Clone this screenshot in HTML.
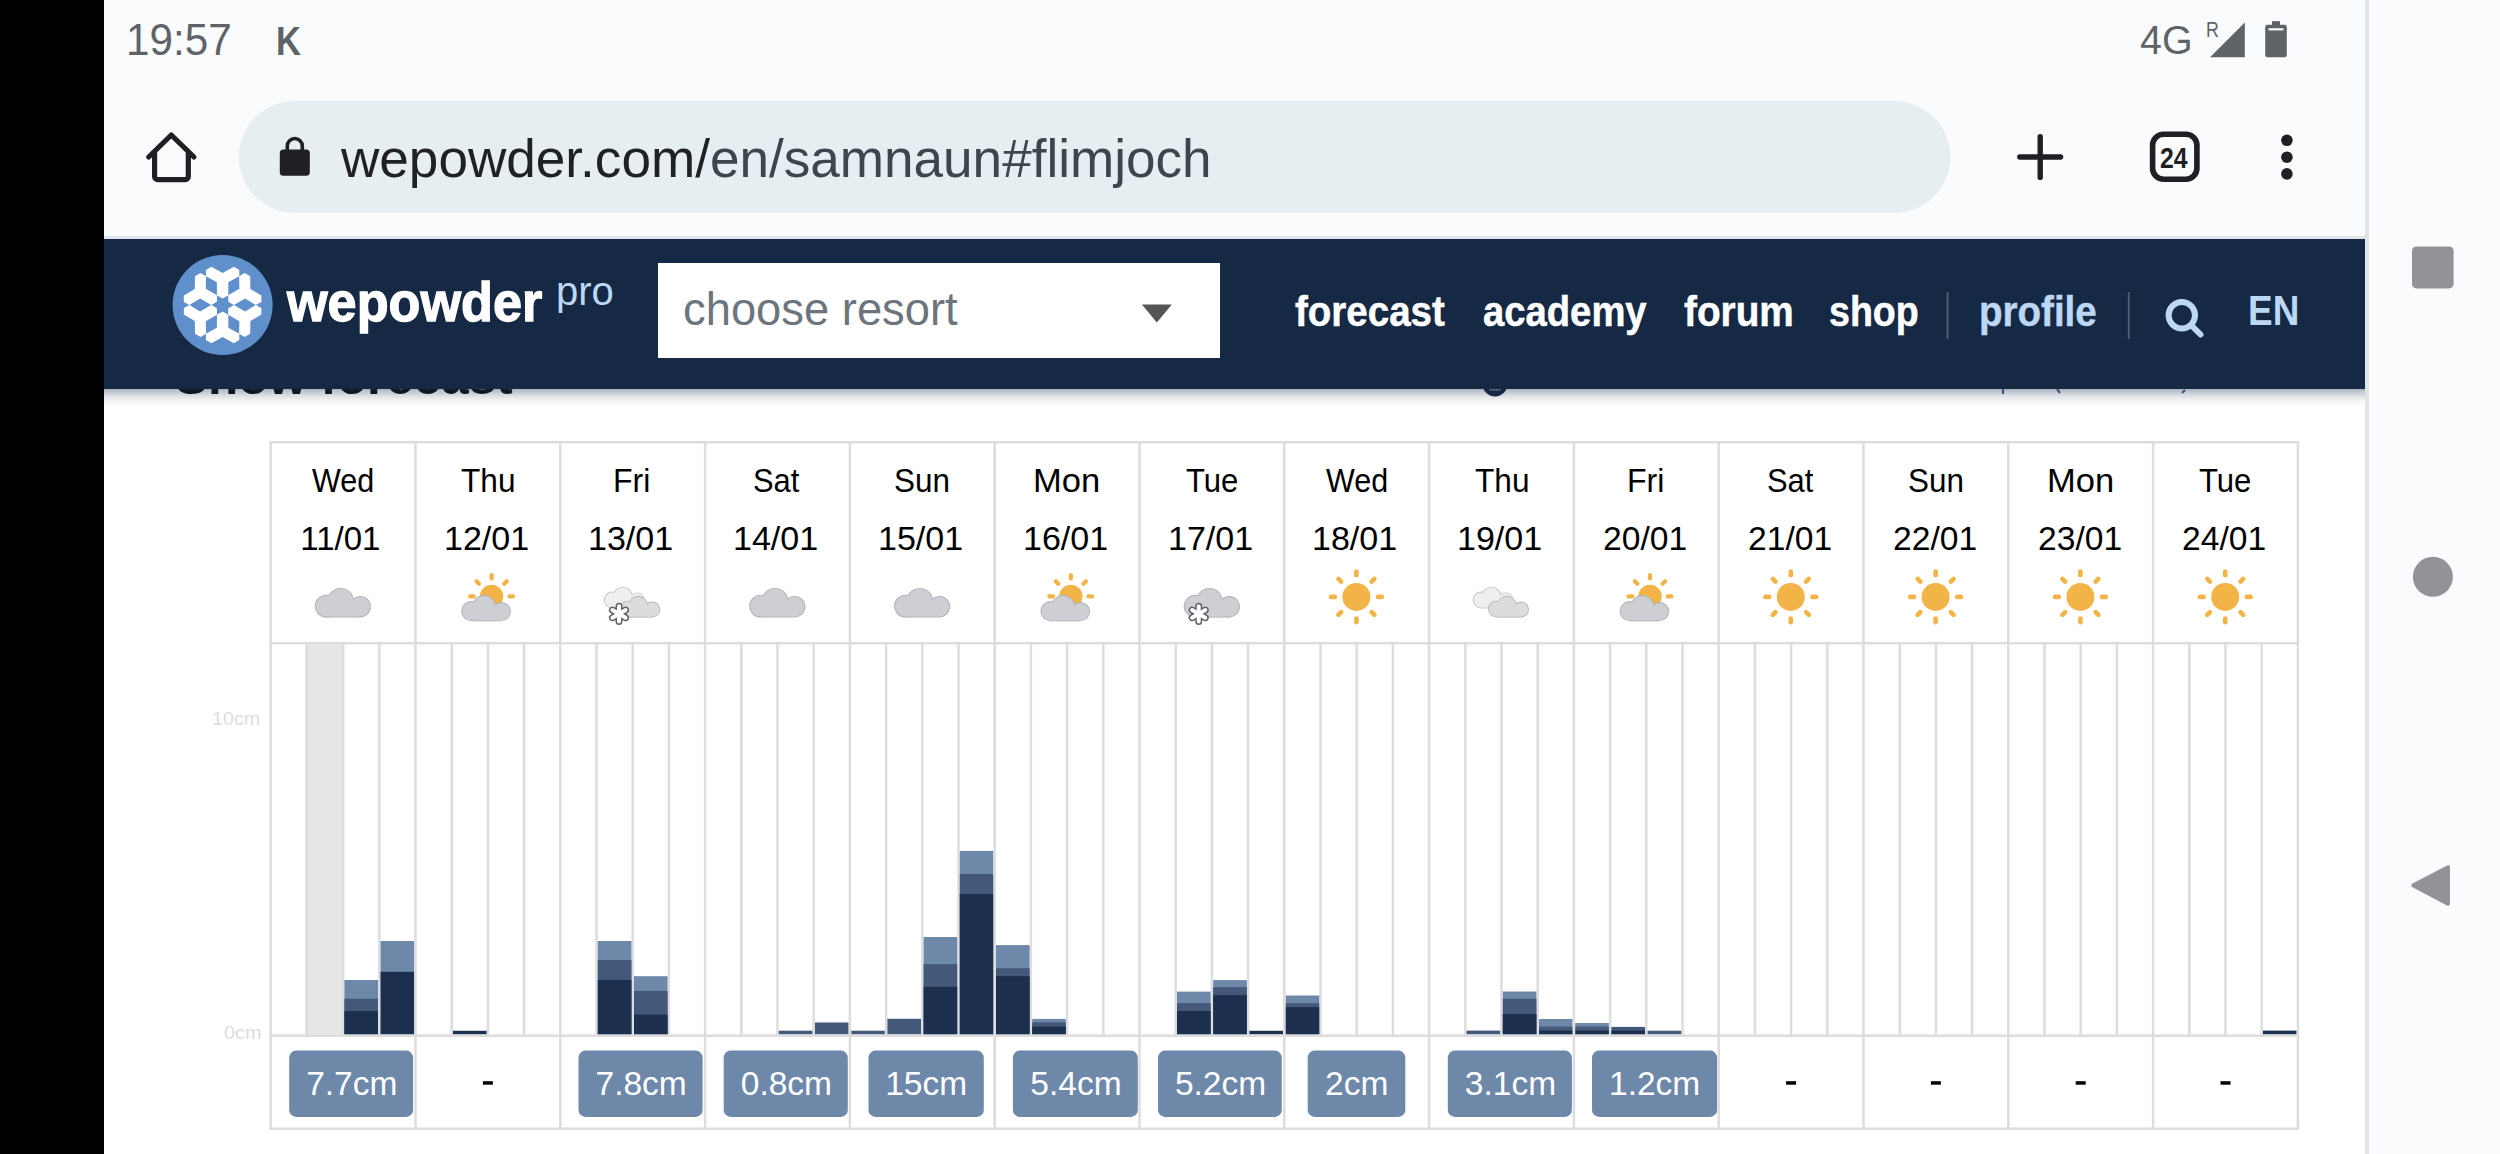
<!DOCTYPE html>
<html><head><meta charset="utf-8"><style>
html,body{margin:0;padding:0;width:2500px;height:1154px;overflow:hidden;background:#fafbfd;font-family:"Liberation Sans",sans-serif;}
.abs{position:absolute;}
.t{position:absolute;white-space:pre;line-height:1;font-family:"Liberation Sans",sans-serif;}
</style></head><body>
<div class=abs style="left:0;top:0;width:104px;height:1154px;background:#000"></div>
<div class=abs style="left:104px;top:0;width:2262px;height:236px;background:#fafbfd"></div>
<div class=abs style="left:104px;top:236px;width:2262px;height:3px;background:#e3e6ea"></div>
<div class=abs style="left:104px;top:389px;width:2262px;height:765px;background:#fff"></div>
<div class=abs style="left:2365px;top:0;width:3.6px;height:1154px;background:#dfe4e8"></div>
<div class=abs style="left:2368.6px;top:0;width:132px;height:1154px;background:#fafbfd"></div>
<svg class=abs style="left:0;top:0" width="2500" height="240">
<polygon points="2210,57.2 2244.8,22.4 2244.8,57.2" fill="#5f6368"/>
<rect x="2265.2" y="24.8" width="21.6" height="32.4" rx="2.5" fill="#5f6368"/>
<rect x="2272" y="21.2" width="8" height="5" fill="#5f6368"/>
<rect x="2268.5" y="28.2" width="15" height="2.2" fill="#fafbfd"/>
<rect x="238.8" y="100.9" width="1711.5" height="112" rx="56" fill="#e7eef1"/>
<path d="M148.7,157 L171.3,135 L193.9,157 M154.6,152.5 V176.6 a3,3 0 0 0 3,3 H185.3 a3,3 0 0 0 3,-3 V152.5" fill="none" stroke="#1f2023" stroke-width="5.2" stroke-linecap="round" stroke-linejoin="round"/>
<rect x="279.8" y="149.5" width="30" height="26.3" rx="3.5" fill="#1f2023"/>
<path d="M287.3,150 V146 a7.5,7.5 0 0 1 15,0 V150" fill="none" stroke="#1f2023" stroke-width="3.6"/>
<path d="M2040.2,136.6 V177.4 M2019.8,157 H2060.6" stroke="#1f2023" stroke-width="5.4" stroke-linecap="round"/>
<rect x="2152.6" y="134.3" width="44.3" height="45" rx="11" fill="none" stroke="#1f2023" stroke-width="5.6"/>
<circle cx="2286.9" cy="140.3" r="5.8" fill="#1f2023"/><circle cx="2286.9" cy="157.2" r="5.8" fill="#1f2023"/><circle cx="2286.9" cy="173.9" r="5.8" fill="#1f2023"/>
</svg>
<div class=t style="left:341.20px;top:132.10px;font-size:53px;transform:scaleX(1.0018);transform-origin:0 0;"><span style='color:#202124'>wepowder.com/</span><span style='color:#3f454c'>en/samnaun#flimjoch</span></div><div class=t style="left:175.01px;top:351.50px;font-size:50px;font-weight:700;color:#111111;transform:scaleX(0.9882);transform-origin:0 0;">Snow forecast</div><svg class=abs style="left:0;top:0" width="2500" height="420">
<circle cx="1495" cy="384" r="12.5" fill="#152844"/>
<rect x="1489.5" y="388.5" width="11" height="2" fill="#888"/>
<path d="M2003,389 v5 M2057,389 l3,4 M2185,390 l-3,3" stroke="#4a6a99" stroke-width="2.2"/>
</svg>
<div class=abs style="left:104px;top:389px;width:2261px;height:17px;background:linear-gradient(rgba(22,40,68,0.36),rgba(22,40,68,0.245) 20%,rgba(22,40,68,0.13) 45%,rgba(22,40,68,0.064) 65%,rgba(22,40,68,0.02) 85%,rgba(22,40,68,0))"></div>
<div class=abs style="left:104px;top:239px;width:2261px;height:150px;background:#152844"></div>
<div class=abs style="left:658.2px;top:263px;width:561.5px;height:94.6px;background:#fff"></div>
<svg class=abs style="left:0;top:0" width="2500" height="400">
<polygon points="1141.9,304.4 1171.8,304.4 1156.85,322.6" fill="#555"/>
<rect x="1946.6" y="292" width="2" height="46.8" fill="#4f5b6e"/>
<rect x="2127.8" y="292.2" width="2" height="46.8" fill="#4f5b6e"/>
<circle cx="2181.8" cy="315.3" r="13.2" fill="none" stroke="#bcd8f5" stroke-width="6"/>
<path d="M2191.5,325.5 L2200.5,334.5" stroke="#bcd8f5" stroke-width="6" stroke-linecap="round"/>
</svg>
<svg class=abs style='left:0;top:0' width='400' height='400'><circle cx='222.6' cy='305' r='50' fill='#6090cc'/><polygon points='222.60,298.40 216.90,295.20 216.90,282.30 205.90,276.30 205.90,269.90 211.40,266.70 222.60,272.90 233.80,266.70 239.30,269.90 239.30,276.30 228.30,282.30 228.30,295.20' fill='#fff'/><polygon points='228.32,301.70 228.24,295.16 239.41,288.71 239.10,276.19 244.65,272.99 250.17,276.15 250.40,288.95 261.37,295.55 261.35,301.91 255.80,305.11 245.11,298.59 233.94,305.04' fill='#fff'/><polygon points='228.32,308.30 233.94,304.96 245.11,311.41 255.80,304.89 261.35,308.09 261.37,314.45 250.40,321.05 250.17,333.85 244.65,337.01 239.10,333.81 239.41,321.29 228.24,314.84' fill='#fff'/><polygon points='222.60,311.60 228.30,314.80 228.30,327.70 239.30,333.70 239.30,340.10 233.80,343.30 222.60,337.10 211.40,343.30 205.90,340.10 205.90,333.70 216.90,327.70 216.90,314.80' fill='#fff'/><polygon points='216.88,308.30 216.96,314.84 205.79,321.29 206.10,333.81 200.55,337.01 195.03,333.85 194.80,321.05 183.83,314.45 183.85,308.09 189.40,304.89 200.09,311.41 211.26,304.96' fill='#fff'/><polygon points='216.88,301.70 211.26,305.04 200.09,298.59 189.40,305.11 183.85,301.91 183.83,295.55 194.80,288.95 195.03,276.15 200.55,272.99 206.10,276.19 205.79,288.71 216.96,295.16' fill='#fff'/></svg><svg class=abs style='left:0;top:0' width='2500' height='1154' viewBox='0 0 2500 1154'><rect x='305.2' y='644.4' width='39' height='390.1' fill='#e6e6e6'/><rect x='305.65' y='643' width='2.5' height='392' fill='#dddddd'/><rect x='341.85' y='643' width='2.5' height='392' fill='#dddddd'/><rect x='378.05' y='643' width='2.5' height='392' fill='#dddddd'/><rect x='450.45' y='643' width='2.5' height='392' fill='#dddddd'/><rect x='486.65' y='643' width='2.5' height='392' fill='#dddddd'/><rect x='522.85' y='643' width='2.5' height='392' fill='#dddddd'/><rect x='595.25' y='643' width='2.5' height='392' fill='#dddddd'/><rect x='631.45' y='643' width='2.5' height='392' fill='#dddddd'/><rect x='667.65' y='643' width='2.5' height='392' fill='#dddddd'/><rect x='740.05' y='643' width='2.5' height='392' fill='#dddddd'/><rect x='776.25' y='643' width='2.5' height='392' fill='#dddddd'/><rect x='812.45' y='643' width='2.5' height='392' fill='#dddddd'/><rect x='884.85' y='643' width='2.5' height='392' fill='#dddddd'/><rect x='921.05' y='643' width='2.5' height='392' fill='#dddddd'/><rect x='957.25' y='643' width='2.5' height='392' fill='#dddddd'/><rect x='1029.65' y='643' width='2.5' height='392' fill='#dddddd'/><rect x='1065.85' y='643' width='2.5' height='392' fill='#dddddd'/><rect x='1102.05' y='643' width='2.5' height='392' fill='#dddddd'/><rect x='1174.45' y='643' width='2.5' height='392' fill='#dddddd'/><rect x='1210.65' y='643' width='2.5' height='392' fill='#dddddd'/><rect x='1246.85' y='643' width='2.5' height='392' fill='#dddddd'/><rect x='1319.25' y='643' width='2.5' height='392' fill='#dddddd'/><rect x='1355.45' y='643' width='2.5' height='392' fill='#dddddd'/><rect x='1391.65' y='643' width='2.5' height='392' fill='#dddddd'/><rect x='1464.05' y='643' width='2.5' height='392' fill='#dddddd'/><rect x='1500.25' y='643' width='2.5' height='392' fill='#dddddd'/><rect x='1536.45' y='643' width='2.5' height='392' fill='#dddddd'/><rect x='1608.85' y='643' width='2.5' height='392' fill='#dddddd'/><rect x='1645.05' y='643' width='2.5' height='392' fill='#dddddd'/><rect x='1681.25' y='643' width='2.5' height='392' fill='#dddddd'/><rect x='1753.65' y='643' width='2.5' height='392' fill='#dddddd'/><rect x='1789.85' y='643' width='2.5' height='392' fill='#dddddd'/><rect x='1826.05' y='643' width='2.5' height='392' fill='#dddddd'/><rect x='1898.45' y='643' width='2.5' height='392' fill='#dddddd'/><rect x='1934.65' y='643' width='2.5' height='392' fill='#dddddd'/><rect x='1970.85' y='643' width='2.5' height='392' fill='#dddddd'/><rect x='2043.25' y='643' width='2.5' height='392' fill='#dddddd'/><rect x='2079.45' y='643' width='2.5' height='392' fill='#dddddd'/><rect x='2115.65' y='643' width='2.5' height='392' fill='#dddddd'/><rect x='2188.05' y='643' width='2.5' height='392' fill='#dddddd'/><rect x='2224.25' y='643' width='2.5' height='392' fill='#dddddd'/><rect x='2260.45' y='643' width='2.5' height='392' fill='#dddddd'/><rect x='344.40' y='980' width='33.60' height='54.40' fill='#6e88aa'/><rect x='344.40' y='998.7' width='33.60' height='35.70' fill='#44597a'/><rect x='344.40' y='1011.1' width='33.60' height='23.30' fill='#1c2f4f'/><rect x='380.60' y='941' width='33.60' height='93.40' fill='#6e88aa'/><rect x='380.60' y='971.8' width='33.60' height='62.60' fill='#1c2f4f'/><rect x='453.00' y='1030.8' width='33.60' height='3.60' fill='#1c2f4f'/><rect x='597.80' y='941' width='33.60' height='93.40' fill='#6e88aa'/><rect x='597.80' y='960' width='33.60' height='74.40' fill='#44597a'/><rect x='597.80' y='980' width='33.60' height='54.40' fill='#1c2f4f'/><rect x='634.00' y='976.2' width='33.60' height='58.20' fill='#6e88aa'/><rect x='634.00' y='991' width='33.60' height='43.40' fill='#44597a'/><rect x='634.00' y='1014.6' width='33.60' height='19.80' fill='#1c2f4f'/><rect x='778.80' y='1030.7' width='33.60' height='3.70' fill='#44597a'/><rect x='815.00' y='1022.5' width='33.60' height='11.90' fill='#44597a'/><rect x='851.20' y='1030.7' width='33.60' height='3.70' fill='#44597a'/><rect x='887.40' y='1018.8' width='33.60' height='15.60' fill='#44597a'/><rect x='923.60' y='937' width='33.60' height='97.40' fill='#6e88aa'/><rect x='923.60' y='964.1' width='33.60' height='70.30' fill='#44597a'/><rect x='923.60' y='986.8' width='33.60' height='47.60' fill='#1c2f4f'/><rect x='959.80' y='850.9' width='33.60' height='183.50' fill='#6e88aa'/><rect x='959.80' y='874' width='33.60' height='160.40' fill='#44597a'/><rect x='959.80' y='894' width='33.60' height='140.40' fill='#1c2f4f'/><rect x='996.00' y='945.1' width='33.60' height='89.30' fill='#6e88aa'/><rect x='996.00' y='968.2' width='33.60' height='66.20' fill='#44597a'/><rect x='996.00' y='976.1' width='33.60' height='58.30' fill='#1c2f4f'/><rect x='1032.20' y='1018.9' width='33.60' height='15.50' fill='#6e88aa'/><rect x='1032.20' y='1022.3' width='33.60' height='12.10' fill='#44597a'/><rect x='1032.20' y='1026.5' width='33.60' height='7.90' fill='#1c2f4f'/><rect x='1177.00' y='991.6' width='33.60' height='42.80' fill='#6e88aa'/><rect x='1177.00' y='1003.1' width='33.60' height='31.30' fill='#44597a'/><rect x='1177.00' y='1011' width='33.60' height='23.40' fill='#1c2f4f'/><rect x='1213.20' y='980.1' width='33.60' height='54.30' fill='#6e88aa'/><rect x='1213.20' y='987.1' width='33.60' height='47.30' fill='#44597a'/><rect x='1213.20' y='995.2' width='33.60' height='39.20' fill='#1c2f4f'/><rect x='1249.40' y='1030.8' width='33.60' height='3.60' fill='#1c2f4f'/><rect x='1285.60' y='995.5' width='33.60' height='38.90' fill='#6e88aa'/><rect x='1285.60' y='1003.2' width='33.60' height='31.20' fill='#44597a'/><rect x='1285.60' y='1007.2' width='33.60' height='27.20' fill='#1c2f4f'/><rect x='1466.60' y='1030.6' width='33.60' height='3.80' fill='#44597a'/><rect x='1502.80' y='991.5' width='33.60' height='42.90' fill='#6e88aa'/><rect x='1502.80' y='998.7' width='33.60' height='35.70' fill='#44597a'/><rect x='1502.80' y='1014' width='33.60' height='20.40' fill='#1c2f4f'/><rect x='1539.00' y='1019' width='33.60' height='15.40' fill='#6e88aa'/><rect x='1539.00' y='1026.5' width='33.60' height='7.90' fill='#44597a'/><rect x='1539.00' y='1030.6' width='33.60' height='3.80' fill='#1c2f4f'/><rect x='1575.20' y='1023' width='33.60' height='11.40' fill='#6e88aa'/><rect x='1575.20' y='1026.5' width='33.60' height='7.90' fill='#44597a'/><rect x='1575.20' y='1030.6' width='33.60' height='3.80' fill='#1c2f4f'/><rect x='1611.40' y='1026.9' width='33.60' height='7.50' fill='#44597a'/><rect x='1611.40' y='1030.6' width='33.60' height='3.80' fill='#1c2f4f'/><rect x='1647.60' y='1030.7' width='33.60' height='3.70' fill='#44597a'/><rect x='2263.00' y='1030.6' width='33.60' height='3.80' fill='#1c2f4f'/><rect x='269.45' y='440.95' width='2029.7' height='2.5' fill='#dddddd'/><rect x='269.45' y='641.95' width='2029.7' height='2.5' fill='#dddddd'/><rect x='269.45' y='1034.45' width='2029.7' height='2.5' fill='#dddddd'/><rect x='269.45' y='1127.45' width='2029.7' height='2.5' fill='#dddddd'/><rect x='269.45' y='441' width='2.5' height='689' fill='#dddddd'/><rect x='414.25' y='441' width='2.5' height='689' fill='#dddddd'/><rect x='559.05' y='441' width='2.5' height='689' fill='#dddddd'/><rect x='703.85' y='441' width='2.5' height='689' fill='#dddddd'/><rect x='848.65' y='441' width='2.5' height='689' fill='#dddddd'/><rect x='993.45' y='441' width='2.5' height='689' fill='#dddddd'/><rect x='1138.25' y='441' width='2.5' height='689' fill='#dddddd'/><rect x='1283.05' y='441' width='2.5' height='689' fill='#dddddd'/><rect x='1427.85' y='441' width='2.5' height='689' fill='#dddddd'/><rect x='1572.65' y='441' width='2.5' height='689' fill='#dddddd'/><rect x='1717.45' y='441' width='2.5' height='689' fill='#dddddd'/><rect x='1862.25' y='441' width='2.5' height='689' fill='#dddddd'/><rect x='2007.05' y='441' width='2.5' height='689' fill='#dddddd'/><rect x='2151.85' y='441' width='2.5' height='689' fill='#dddddd'/><rect x='2296.65' y='441' width='2.5' height='689' fill='#dddddd'/><rect x='289.2' y='1050.6' width='123.9' height='66.3' rx='7' fill='#6e88aa'/><rect x='578.5' y='1050.6' width='124.1' height='66.3' rx='7' fill='#6e88aa'/><rect x='723.7' y='1050.6' width='124.1' height='66.3' rx='7' fill='#6e88aa'/><rect x='868.5' y='1050.6' width='115.3' height='66.3' rx='7' fill='#6e88aa'/><rect x='1012.9' y='1050.6' width='124.9' height='66.3' rx='7' fill='#6e88aa'/><rect x='1158' y='1050.6' width='123.8' height='66.3' rx='7' fill='#6e88aa'/><rect x='1307.7' y='1050.6' width='97.6' height='66.3' rx='7' fill='#6e88aa'/><rect x='1447.8' y='1050.6' width='124.1' height='66.3' rx='7' fill='#6e88aa'/><rect x='1592' y='1050.6' width='125.1' height='66.3' rx='7' fill='#6e88aa'/><rect x='482.90' y='1081.2' width='10' height='3.5' fill='#000'/><rect x='1786.10' y='1081.2' width='10' height='3.5' fill='#000'/><rect x='1930.90' y='1081.2' width='10' height='3.5' fill='#000'/><rect x='2075.70' y='1081.2' width='10' height='3.5' fill='#000'/><rect x='2220.50' y='1081.2' width='10' height='3.5' fill='#000'/><g fill='#afb2b8' opacity='1'><circle cx='326.20' cy='606.10' r='11.40'/><circle cx='340.60' cy='601.30' r='13.40'/><circle cx='360.30' cy='606.60' r='10.70'/><rect x='326.20' y='606.10' width='34.10' height='11.40'/></g><g fill='#cdcfd3' opacity='1'><circle cx='326.20' cy='606.10' r='10.50'/><circle cx='340.60' cy='601.30' r='12.50'/><circle cx='360.30' cy='606.60' r='9.80'/><rect x='326.20' y='606.10' width='34.10' height='10.50'/></g><circle cx='491.60' cy='596.40' r='11.7' fill='#f2b447'/><line x1='509.40' y1='596.40' x2='513.00' y2='596.40' stroke='#f2b447' stroke-width='4.2' stroke-linecap='round'/><line x1='504.19' y1='583.81' x2='506.73' y2='581.27' stroke='#f2b447' stroke-width='4.2' stroke-linecap='round'/><line x1='491.60' y1='578.60' x2='491.60' y2='575.00' stroke='#f2b447' stroke-width='4.2' stroke-linecap='round'/><line x1='479.01' y1='583.81' x2='476.47' y2='581.27' stroke='#f2b447' stroke-width='4.2' stroke-linecap='round'/><line x1='473.80' y1='596.40' x2='470.20' y2='596.40' stroke='#f2b447' stroke-width='4.2' stroke-linecap='round'/><g fill='#afb2b8' opacity='1'><circle cx='471.33' cy='611.12' r='10.14'/><circle cx='484.00' cy='606.89' r='11.90'/><circle cx='501.34' cy='611.56' r='9.52'/><rect x='471.33' y='611.12' width='30.01' height='10.14'/></g><g fill='#cdcfd3' opacity='1'><circle cx='471.33' cy='611.12' r='9.24'/><circle cx='484.00' cy='606.89' r='11.00'/><circle cx='501.34' cy='611.56' r='8.62'/><rect x='471.33' y='611.12' width='30.01' height='9.24'/></g><g fill='#c4c6ca' opacity='1'><circle cx='612.31' cy='600.00' r='8.46'/><circle cx='622.68' cy='596.55' r='9.90'/><circle cx='636.86' cy='600.36' r='7.96'/><rect x='612.31' y='600.00' width='24.55' height='8.46'/></g><g fill='#efefef' opacity='1'><circle cx='612.31' cy='600.00' r='7.56'/><circle cx='622.68' cy='596.55' r='9.00'/><circle cx='636.86' cy='600.36' r='7.06'/><rect x='612.31' y='600.00' width='24.55' height='7.56'/></g><g fill='#b4b7bc' opacity='1'><circle cx='627.71' cy='609.10' r='8.46'/><circle cx='638.08' cy='605.65' r='9.90'/><circle cx='652.26' cy='609.46' r='7.96'/><rect x='627.71' y='609.10' width='24.55' height='8.46'/></g><g fill='#dcdcdc' opacity='1'><circle cx='627.71' cy='609.10' r='7.56'/><circle cx='638.08' cy='605.65' r='9.00'/><circle cx='652.26' cy='609.46' r='7.06'/><rect x='627.71' y='609.10' width='24.55' height='7.56'/></g><line x1='619.00' y1='606.30' x2='619.00' y2='621.50' stroke='#5c6168' stroke-width='7.0' stroke-linecap='round'/><line x1='612.42' y1='610.10' x2='625.58' y2='617.70' stroke='#5c6168' stroke-width='7.0' stroke-linecap='round'/><line x1='625.58' y1='610.10' x2='612.42' y2='617.70' stroke='#5c6168' stroke-width='7.0' stroke-linecap='round'/><line x1='619.00' y1='606.30' x2='619.00' y2='621.50' stroke='#ffffff' stroke-width='4.0' stroke-linecap='round'/><line x1='612.42' y1='610.10' x2='625.58' y2='617.70' stroke='#ffffff' stroke-width='4.0' stroke-linecap='round'/><line x1='625.58' y1='610.10' x2='612.42' y2='617.70' stroke='#ffffff' stroke-width='4.0' stroke-linecap='round'/><g fill='#afb2b8' opacity='1'><circle cx='760.60' cy='606.10' r='11.40'/><circle cx='775.00' cy='601.30' r='13.40'/><circle cx='794.70' cy='606.60' r='10.70'/><rect x='760.60' y='606.10' width='34.10' height='11.40'/></g><g fill='#cdcfd3' opacity='1'><circle cx='760.60' cy='606.10' r='10.50'/><circle cx='775.00' cy='601.30' r='12.50'/><circle cx='794.70' cy='606.60' r='9.80'/><rect x='760.60' y='606.10' width='34.10' height='10.50'/></g><g fill='#afb2b8' opacity='1'><circle cx='905.40' cy='606.10' r='11.40'/><circle cx='919.80' cy='601.30' r='13.40'/><circle cx='939.50' cy='606.60' r='10.70'/><rect x='905.40' y='606.10' width='34.10' height='11.40'/></g><g fill='#cdcfd3' opacity='1'><circle cx='905.40' cy='606.10' r='10.50'/><circle cx='919.80' cy='601.30' r='12.50'/><circle cx='939.50' cy='606.60' r='9.80'/><rect x='905.40' y='606.10' width='34.10' height='10.50'/></g><circle cx='1070.80' cy='596.40' r='11.7' fill='#f2b447'/><line x1='1088.60' y1='596.40' x2='1092.20' y2='596.40' stroke='#f2b447' stroke-width='4.2' stroke-linecap='round'/><line x1='1083.39' y1='583.81' x2='1085.93' y2='581.27' stroke='#f2b447' stroke-width='4.2' stroke-linecap='round'/><line x1='1070.80' y1='578.60' x2='1070.80' y2='575.00' stroke='#f2b447' stroke-width='4.2' stroke-linecap='round'/><line x1='1058.21' y1='583.81' x2='1055.67' y2='581.27' stroke='#f2b447' stroke-width='4.2' stroke-linecap='round'/><line x1='1053.00' y1='596.40' x2='1049.40' y2='596.40' stroke='#f2b447' stroke-width='4.2' stroke-linecap='round'/><g fill='#afb2b8' opacity='1'><circle cx='1050.53' cy='611.12' r='10.14'/><circle cx='1063.20' cy='606.89' r='11.90'/><circle cx='1080.54' cy='611.56' r='9.52'/><rect x='1050.53' y='611.12' width='30.01' height='10.14'/></g><g fill='#cdcfd3' opacity='1'><circle cx='1050.53' cy='611.12' r='9.24'/><circle cx='1063.20' cy='606.89' r='11.00'/><circle cx='1080.54' cy='611.56' r='8.62'/><rect x='1050.53' y='611.12' width='30.01' height='9.24'/></g><g fill='#afb2b8' opacity='1'><circle cx='1195.10' cy='606.20' r='11.40'/><circle cx='1209.50' cy='601.40' r='13.40'/><circle cx='1229.20' cy='606.70' r='10.70'/><rect x='1195.10' y='606.20' width='34.10' height='11.40'/></g><g fill='#cdcfd3' opacity='1'><circle cx='1195.10' cy='606.20' r='10.50'/><circle cx='1209.50' cy='601.40' r='12.50'/><circle cx='1229.20' cy='606.70' r='9.80'/><rect x='1195.10' y='606.20' width='34.10' height='10.50'/></g><line x1='1198.70' y1='606.30' x2='1198.70' y2='621.50' stroke='#5c6168' stroke-width='7.0' stroke-linecap='round'/><line x1='1192.12' y1='610.10' x2='1205.28' y2='617.70' stroke='#5c6168' stroke-width='7.0' stroke-linecap='round'/><line x1='1205.28' y1='610.10' x2='1192.12' y2='617.70' stroke='#5c6168' stroke-width='7.0' stroke-linecap='round'/><line x1='1198.70' y1='606.30' x2='1198.70' y2='621.50' stroke='#ffffff' stroke-width='4.0' stroke-linecap='round'/><line x1='1192.12' y1='610.10' x2='1205.28' y2='617.70' stroke='#ffffff' stroke-width='4.0' stroke-linecap='round'/><line x1='1205.28' y1='610.10' x2='1192.12' y2='617.70' stroke='#ffffff' stroke-width='4.0' stroke-linecap='round'/><circle cx='1356.40' cy='596.90' r='14' fill='#f2b447'/><line x1='1378.00' y1='596.90' x2='1381.80' y2='596.90' stroke='#f2b447' stroke-width='4.6' stroke-linecap='round'/><line x1='1371.67' y1='581.63' x2='1374.36' y2='578.94' stroke='#f2b447' stroke-width='4.6' stroke-linecap='round'/><line x1='1356.40' y1='575.30' x2='1356.40' y2='571.50' stroke='#f2b447' stroke-width='4.6' stroke-linecap='round'/><line x1='1341.13' y1='581.63' x2='1338.44' y2='578.94' stroke='#f2b447' stroke-width='4.6' stroke-linecap='round'/><line x1='1334.80' y1='596.90' x2='1331.00' y2='596.90' stroke='#f2b447' stroke-width='4.6' stroke-linecap='round'/><line x1='1341.13' y1='612.17' x2='1338.44' y2='614.86' stroke='#f2b447' stroke-width='4.6' stroke-linecap='round'/><line x1='1356.40' y1='618.50' x2='1356.40' y2='622.30' stroke='#f2b447' stroke-width='4.6' stroke-linecap='round'/><line x1='1371.67' y1='612.17' x2='1374.36' y2='614.86' stroke='#f2b447' stroke-width='4.6' stroke-linecap='round'/><g fill='#c4c6ca' opacity='1'><circle cx='1481.11' cy='600.00' r='8.46'/><circle cx='1491.48' cy='596.55' r='9.90'/><circle cx='1505.66' cy='600.36' r='7.96'/><rect x='1481.11' y='600.00' width='24.55' height='8.46'/></g><g fill='#efefef' opacity='1'><circle cx='1481.11' cy='600.00' r='7.56'/><circle cx='1491.48' cy='596.55' r='9.00'/><circle cx='1505.66' cy='600.36' r='7.06'/><rect x='1481.11' y='600.00' width='24.55' height='7.56'/></g><g fill='#b4b7bc' opacity='1'><circle cx='1496.51' cy='609.10' r='8.46'/><circle cx='1506.88' cy='605.65' r='9.90'/><circle cx='1521.06' cy='609.46' r='7.96'/><rect x='1496.51' y='609.10' width='24.55' height='8.46'/></g><g fill='#dcdcdc' opacity='1'><circle cx='1496.51' cy='609.10' r='7.56'/><circle cx='1506.88' cy='605.65' r='9.00'/><circle cx='1521.06' cy='609.46' r='7.06'/><rect x='1496.51' y='609.10' width='24.55' height='7.56'/></g><circle cx='1650.00' cy='596.40' r='11.7' fill='#f2b447'/><line x1='1667.80' y1='596.40' x2='1671.40' y2='596.40' stroke='#f2b447' stroke-width='4.2' stroke-linecap='round'/><line x1='1662.59' y1='583.81' x2='1665.13' y2='581.27' stroke='#f2b447' stroke-width='4.2' stroke-linecap='round'/><line x1='1650.00' y1='578.60' x2='1650.00' y2='575.00' stroke='#f2b447' stroke-width='4.2' stroke-linecap='round'/><line x1='1637.41' y1='583.81' x2='1634.87' y2='581.27' stroke='#f2b447' stroke-width='4.2' stroke-linecap='round'/><line x1='1632.20' y1='596.40' x2='1628.60' y2='596.40' stroke='#f2b447' stroke-width='4.2' stroke-linecap='round'/><g fill='#afb2b8' opacity='1'><circle cx='1629.73' cy='611.12' r='10.14'/><circle cx='1642.40' cy='606.89' r='11.90'/><circle cx='1659.74' cy='611.56' r='9.52'/><rect x='1629.73' y='611.12' width='30.01' height='10.14'/></g><g fill='#cdcfd3' opacity='1'><circle cx='1629.73' cy='611.12' r='9.24'/><circle cx='1642.40' cy='606.89' r='11.00'/><circle cx='1659.74' cy='611.56' r='8.62'/><rect x='1629.73' y='611.12' width='30.01' height='9.24'/></g><circle cx='1790.80' cy='596.90' r='14' fill='#f2b447'/><line x1='1812.40' y1='596.90' x2='1816.20' y2='596.90' stroke='#f2b447' stroke-width='4.6' stroke-linecap='round'/><line x1='1806.07' y1='581.63' x2='1808.76' y2='578.94' stroke='#f2b447' stroke-width='4.6' stroke-linecap='round'/><line x1='1790.80' y1='575.30' x2='1790.80' y2='571.50' stroke='#f2b447' stroke-width='4.6' stroke-linecap='round'/><line x1='1775.53' y1='581.63' x2='1772.84' y2='578.94' stroke='#f2b447' stroke-width='4.6' stroke-linecap='round'/><line x1='1769.20' y1='596.90' x2='1765.40' y2='596.90' stroke='#f2b447' stroke-width='4.6' stroke-linecap='round'/><line x1='1775.53' y1='612.17' x2='1772.84' y2='614.86' stroke='#f2b447' stroke-width='4.6' stroke-linecap='round'/><line x1='1790.80' y1='618.50' x2='1790.80' y2='622.30' stroke='#f2b447' stroke-width='4.6' stroke-linecap='round'/><line x1='1806.07' y1='612.17' x2='1808.76' y2='614.86' stroke='#f2b447' stroke-width='4.6' stroke-linecap='round'/><circle cx='1935.60' cy='596.90' r='14' fill='#f2b447'/><line x1='1957.20' y1='596.90' x2='1961.00' y2='596.90' stroke='#f2b447' stroke-width='4.6' stroke-linecap='round'/><line x1='1950.87' y1='581.63' x2='1953.56' y2='578.94' stroke='#f2b447' stroke-width='4.6' stroke-linecap='round'/><line x1='1935.60' y1='575.30' x2='1935.60' y2='571.50' stroke='#f2b447' stroke-width='4.6' stroke-linecap='round'/><line x1='1920.33' y1='581.63' x2='1917.64' y2='578.94' stroke='#f2b447' stroke-width='4.6' stroke-linecap='round'/><line x1='1914.00' y1='596.90' x2='1910.20' y2='596.90' stroke='#f2b447' stroke-width='4.6' stroke-linecap='round'/><line x1='1920.33' y1='612.17' x2='1917.64' y2='614.86' stroke='#f2b447' stroke-width='4.6' stroke-linecap='round'/><line x1='1935.60' y1='618.50' x2='1935.60' y2='622.30' stroke='#f2b447' stroke-width='4.6' stroke-linecap='round'/><line x1='1950.87' y1='612.17' x2='1953.56' y2='614.86' stroke='#f2b447' stroke-width='4.6' stroke-linecap='round'/><circle cx='2080.40' cy='596.90' r='14' fill='#f2b447'/><line x1='2102.00' y1='596.90' x2='2105.80' y2='596.90' stroke='#f2b447' stroke-width='4.6' stroke-linecap='round'/><line x1='2095.67' y1='581.63' x2='2098.36' y2='578.94' stroke='#f2b447' stroke-width='4.6' stroke-linecap='round'/><line x1='2080.40' y1='575.30' x2='2080.40' y2='571.50' stroke='#f2b447' stroke-width='4.6' stroke-linecap='round'/><line x1='2065.13' y1='581.63' x2='2062.44' y2='578.94' stroke='#f2b447' stroke-width='4.6' stroke-linecap='round'/><line x1='2058.80' y1='596.90' x2='2055.00' y2='596.90' stroke='#f2b447' stroke-width='4.6' stroke-linecap='round'/><line x1='2065.13' y1='612.17' x2='2062.44' y2='614.86' stroke='#f2b447' stroke-width='4.6' stroke-linecap='round'/><line x1='2080.40' y1='618.50' x2='2080.40' y2='622.30' stroke='#f2b447' stroke-width='4.6' stroke-linecap='round'/><line x1='2095.67' y1='612.17' x2='2098.36' y2='614.86' stroke='#f2b447' stroke-width='4.6' stroke-linecap='round'/><circle cx='2225.20' cy='596.90' r='14' fill='#f2b447'/><line x1='2246.80' y1='596.90' x2='2250.60' y2='596.90' stroke='#f2b447' stroke-width='4.6' stroke-linecap='round'/><line x1='2240.47' y1='581.63' x2='2243.16' y2='578.94' stroke='#f2b447' stroke-width='4.6' stroke-linecap='round'/><line x1='2225.20' y1='575.30' x2='2225.20' y2='571.50' stroke='#f2b447' stroke-width='4.6' stroke-linecap='round'/><line x1='2209.93' y1='581.63' x2='2207.24' y2='578.94' stroke='#f2b447' stroke-width='4.6' stroke-linecap='round'/><line x1='2203.60' y1='596.90' x2='2199.80' y2='596.90' stroke='#f2b447' stroke-width='4.6' stroke-linecap='round'/><line x1='2209.93' y1='612.17' x2='2207.24' y2='614.86' stroke='#f2b447' stroke-width='4.6' stroke-linecap='round'/><line x1='2225.20' y1='618.50' x2='2225.20' y2='622.30' stroke='#f2b447' stroke-width='4.6' stroke-linecap='round'/><line x1='2240.47' y1='612.17' x2='2243.16' y2='614.86' stroke='#f2b447' stroke-width='4.6' stroke-linecap='round'/></svg><div class=t style="left:126.09px;top:16.90px;font-size:45px;font-weight:400;color:#5f6368;transform:scaleX(0.9380);transform-origin:0 0;">19:57</div>
<div class=t style="left:275.97px;top:20.50px;font-size:40px;font-weight:700;color:#5f6368;transform:scaleX(0.8630);transform-origin:0 0;">K</div>
<div class=t style="left:2140.04px;top:19.60px;font-size:41px;font-weight:400;color:#5f6368;transform:scaleX(0.9608);transform-origin:0 0;">4G</div>
<div class=t style="left:2206.38px;top:18.80px;font-size:22px;font-weight:400;color:#5f6368;transform:scaleX(0.8077);transform-origin:0 0;">R</div>
<div class=t style="left:2160.26px;top:142.80px;font-size:29.5px;font-weight:700;color:#1f2023;transform:scaleX(0.8406);transform-origin:0 0;">24</div>
<div class=t style="left:286.75px;top:275.20px;font-size:55px;font-weight:700;color:#ffffff;transform:scaleX(0.9496);transform-origin:0 0;-webkit-text-stroke:1.3px #fff;">wepowder</div>
<div class=t style="left:556.05px;top:271.40px;font-size:41px;font-weight:400;color:#bcd8f5;transform:scaleX(0.9768);transform-origin:0 0;">pro</div>
<div class=t style="left:683.41px;top:287.40px;font-size:45.5px;font-weight:400;color:#6c757d;transform:scaleX(0.9964);transform-origin:0 0;">choose resort</div>
<div class=t style="left:1295.20px;top:290.70px;font-size:42px;font-weight:700;color:#ffffff;transform:scaleX(0.9171);transform-origin:0 0;-webkit-text-stroke:0.5px #ffffff;">forecast</div>
<div class=t style="left:1482.59px;top:290.70px;font-size:42px;font-weight:700;color:#ffffff;transform:scaleX(0.9101);transform-origin:0 0;-webkit-text-stroke:0.5px #ffffff;">academy</div>
<div class=t style="left:1683.60px;top:290.70px;font-size:42px;font-weight:700;color:#ffffff;transform:scaleX(0.9231);transform-origin:0 0;-webkit-text-stroke:0.5px #ffffff;">forum</div>
<div class=t style="left:1829.11px;top:290.70px;font-size:42px;font-weight:700;color:#ffffff;transform:scaleX(0.8949);transform-origin:0 0;-webkit-text-stroke:0.5px #ffffff;">shop</div>
<div class=t style="left:1978.57px;top:290.70px;font-size:42px;font-weight:700;color:#bcd8f5;transform:scaleX(0.9175);transform-origin:0 0;-webkit-text-stroke:0.5px #bcd8f5;">profile</div>
<div class=t style="left:2248.16px;top:290.40px;font-size:42px;font-weight:700;color:#bcd8f5;transform:scaleX(0.8792);transform-origin:0 0;">EN</div>
<div class=t style="left:312.30px;top:464.00px;font-size:33px;font-weight:400;color:#000;transform:scaleX(0.9242);transform-origin:0 0;">Wed</div>
<div class=t style="left:300.30px;top:522.40px;font-size:33px;font-weight:400;color:#000;">11/01</div>
<div class=t style="left:461.25px;top:464.00px;font-size:33px;font-weight:400;color:#000;transform:scaleX(0.9582);transform-origin:0 0;">Thu</div>
<div class=t style="left:443.69px;top:522.40px;font-size:33px;font-weight:400;color:#000;transform:scaleX(1.0316);transform-origin:0 0;">12/01</div>
<div class=t style="left:613.46px;top:464.00px;font-size:33px;font-weight:400;color:#000;transform:scaleX(0.9714);transform-origin:0 0;">Fri</div>
<div class=t style="left:588.49px;top:522.40px;font-size:33px;font-weight:400;color:#000;transform:scaleX(1.0316);transform-origin:0 0;">13/01</div>
<div class=t style="left:753.31px;top:464.00px;font-size:33px;font-weight:400;color:#000;transform:scaleX(0.9367);transform-origin:0 0;">Sat</div>
<div class=t style="left:733.29px;top:522.40px;font-size:33px;font-weight:400;color:#000;transform:scaleX(1.0316);transform-origin:0 0;">14/01</div>
<div class=t style="left:894.40px;top:464.00px;font-size:33px;font-weight:400;color:#000;transform:scaleX(0.9518);transform-origin:0 0;">Sun</div>
<div class=t style="left:878.09px;top:522.40px;font-size:33px;font-weight:400;color:#000;transform:scaleX(1.0316);transform-origin:0 0;">15/01</div>
<div class=t style="left:1033.31px;top:464.00px;font-size:33px;font-weight:400;color:#000;transform:scaleX(1.0467);transform-origin:0 0;">Mon</div>
<div class=t style="left:1022.89px;top:522.40px;font-size:33px;font-weight:400;color:#000;transform:scaleX(1.0316);transform-origin:0 0;">16/01</div>
<div class=t style="left:1185.70px;top:464.00px;font-size:33px;font-weight:400;color:#000;transform:scaleX(0.9418);transform-origin:0 0;">Tue</div>
<div class=t style="left:1167.69px;top:522.40px;font-size:33px;font-weight:400;color:#000;transform:scaleX(1.0316);transform-origin:0 0;">17/01</div>
<div class=t style="left:1325.90px;top:464.00px;font-size:33px;font-weight:400;color:#000;transform:scaleX(0.9242);transform-origin:0 0;">Wed</div>
<div class=t style="left:1312.49px;top:522.40px;font-size:33px;font-weight:400;color:#000;transform:scaleX(1.0316);transform-origin:0 0;">18/01</div>
<div class=t style="left:1474.85px;top:464.00px;font-size:33px;font-weight:400;color:#000;transform:scaleX(0.9582);transform-origin:0 0;">Thu</div>
<div class=t style="left:1457.29px;top:522.40px;font-size:33px;font-weight:400;color:#000;transform:scaleX(1.0316);transform-origin:0 0;">19/01</div>
<div class=t style="left:1627.06px;top:464.00px;font-size:33px;font-weight:400;color:#000;transform:scaleX(0.9714);transform-origin:0 0;">Fri</div>
<div class=t style="left:1603.13px;top:522.40px;font-size:33px;font-weight:400;color:#000;transform:scaleX(1.0188);transform-origin:0 0;">20/01</div>
<div class=t style="left:1766.91px;top:464.00px;font-size:33px;font-weight:400;color:#000;transform:scaleX(0.9367);transform-origin:0 0;">Sat</div>
<div class=t style="left:1747.93px;top:522.40px;font-size:33px;font-weight:400;color:#000;transform:scaleX(1.0188);transform-origin:0 0;">21/01</div>
<div class=t style="left:1908.00px;top:464.00px;font-size:33px;font-weight:400;color:#000;transform:scaleX(0.9518);transform-origin:0 0;">Sun</div>
<div class=t style="left:1892.73px;top:522.40px;font-size:33px;font-weight:400;color:#000;transform:scaleX(1.0188);transform-origin:0 0;">22/01</div>
<div class=t style="left:2046.91px;top:464.00px;font-size:33px;font-weight:400;color:#000;transform:scaleX(1.0467);transform-origin:0 0;">Mon</div>
<div class=t style="left:2037.53px;top:522.40px;font-size:33px;font-weight:400;color:#000;transform:scaleX(1.0188);transform-origin:0 0;">23/01</div>
<div class=t style="left:2199.30px;top:464.00px;font-size:33px;font-weight:400;color:#000;transform:scaleX(0.9418);transform-origin:0 0;">Tue</div>
<div class=t style="left:2182.33px;top:522.40px;font-size:33px;font-weight:400;color:#000;transform:scaleX(1.0188);transform-origin:0 0;">24/01</div>
<div class=t style="left:211.96px;top:708.50px;font-size:19px;font-weight:400;color:#dddddd;transform:scaleX(1.0356);transform-origin:0 0;">10cm</div>
<div class=t style="left:223.50px;top:1022.60px;font-size:19px;font-weight:400;color:#dddddd;transform:scaleX(1.0429);transform-origin:0 0;">0cm</div>
<div class=t style="left:306.15px;top:1066.60px;font-size:33.5px;font-weight:400;color:#ffffff;">7.7cm</div>
<div class=t style="left:595.55px;top:1066.60px;font-size:33.5px;font-weight:400;color:#ffffff;">7.8cm</div>
<div class=t style="left:740.75px;top:1066.60px;font-size:33.5px;font-weight:400;color:#ffffff;">0.8cm</div>
<div class=t style="left:885.15px;top:1066.60px;font-size:33.5px;font-weight:400;color:#ffffff;">15cm</div>
<div class=t style="left:1030.35px;top:1066.60px;font-size:33.5px;font-weight:400;color:#ffffff;">5.4cm</div>
<div class=t style="left:1174.90px;top:1066.60px;font-size:33.5px;font-weight:400;color:#ffffff;">5.2cm</div>
<div class=t style="left:1325.00px;top:1066.60px;font-size:33.5px;font-weight:400;color:#ffffff;">2cm</div>
<div class=t style="left:1464.85px;top:1066.60px;font-size:33.5px;font-weight:400;color:#ffffff;">3.1cm</div>
<div class=t style="left:1609.05px;top:1066.60px;font-size:33.5px;font-weight:400;color:#ffffff;">1.2cm</div>
<svg class=abs style="left:0;top:0" width="2500" height="1154">
<rect x="2412" y="246.4" width="41.6" height="42" rx="4.5" fill="#919398"/>
<circle cx="2432.9" cy="576.8" r="20" fill="#919398"/>
<path d="M2447,865.5 Q2450,864 2450,868 L2450,903 Q2450,907 2447,905.5 L2413,887.5 Q2409.5,885.4 2413,883.3 Z" fill="#919398"/>
</svg>
</body></html>
